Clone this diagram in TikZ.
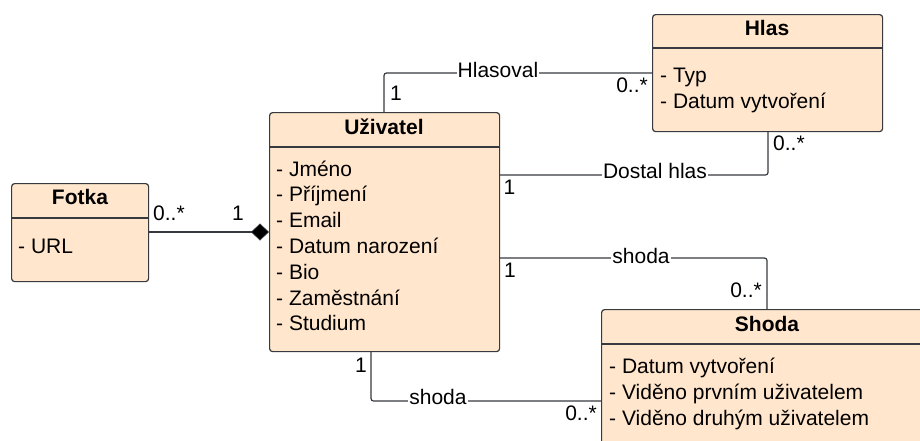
\documentclass[tikz,border=0pt]{standalone}
\usepackage{fontspec}
\setmainfont{Liberation Sans}
\usetikzlibrary{arrows.meta}
\definecolor{boxfill}{HTML}{FFE6CC}
\definecolor{linec}{HTML}{36393D}
\tikzset{
  umlbox/.style={draw=linec, fill=boxfill, line width=1.2pt, rounded corners=3pt, inner sep=0pt, anchor=north west},
  divider/.style={draw=linec, line width=1.2pt},
  conn/.style={draw=linec, line width=1.2pt, rounded corners=2.5pt},
  ttl/.style={anchor=base, inner sep=0pt, font=\fontsize{21}{25.8}\selectfont\bfseries},
  attr/.style={anchor=base west, inner sep=0pt, font=\fontsize{21}{25.8}\selectfont},
  mult/.style={inner sep=0pt, font=\fontsize{21}{25.8}\selectfont},
  lbl/.style={anchor=base, fill=white, inner xsep=1pt, inner ysep=2pt, font=\fontsize{21}{25.8}\selectfont},
}
\begin{document}
\begin{tikzpicture}[x=1pt,y=-1pt]
\useasboundingbox (0,0) rectangle (920,440);
\clip (0,0) rectangle (920,440);

% Boxes
\node[umlbox, minimum width=230pt, minimum height=239pt] (uz) at (269,112) {};
\node[umlbox, minimum width=137pt, minimum height=98pt] (fo) at (11,183) {};
\node[umlbox, minimum width=230pt, minimum height=117pt] (hl) at (652,14) {};
\node[umlbox, minimum width=331pt, minimum height=150pt] (sh) at (601,309) {};

% Dividers
\draw[divider] (uz.west |- 0,147) -- (uz.east |- 0,147);
\draw[divider] (fo.west |- 0,218) -- (fo.east |- 0,218);
\draw[divider] (hl.west |- 0,48) -- (hl.east |- 0,48);
\draw[divider] (sh.west |- 0,344) -- (sh.east |- 0,344);

% Titles
\node[ttl] (uz-t) at (384,134) {Uživatel};
\node[ttl] (fo-t) at (80,204) {Fotka};
\node[ttl] (hl-t) at (767,35) {Hlas};
\node[ttl] (sh-t) at (767,331) {Shoda};

% Attributes
\foreach \t [count=\i] in {Jméno, Příjmení, Email, Datum narození, Bio, Zaměstnání, Studium}
  \node[attr] (uz-a\i) at (276,{176+25.8*(\i-1)}) {- \t};
\node[attr] (fo-a1) at (18,253) {- URL};
\node[attr] (hl-a1) at (660,82) {- Typ};
\node[attr] (hl-a2) at (660,108) {- Datum vytvoření};
\node[attr] (sh-a1) at (609,373.5) {- Datum vytvoření};
\node[attr] (sh-a2) at (609,399.5) {- Viděno prvním uživatelem};
\node[attr] (sh-a3) at (609,425.5) {- Viděno druhým uživatelem};

% Connectors
\draw[draw=linec, line width=1.2pt, -{Diamond[length=18pt,width=17pt,line width=0.6pt,fill=black]}] (fo.east |- 0,232) -- (uz.west |- 0,232);
\draw[conn] (uz.north -| 384,0) |- (hl.west |- 0,73);
\draw[conn] (uz.east |- 0,175) -| (hl.south -| 768,0);
\draw[conn] (uz.east |- 0,258) -| (sh.north -| 767,0);
\draw[conn] (uz.south -| 371,0) |- (sh.west |- 0,401);

% Connector labels
\node[lbl] (l-hlasoval) at (498,77) {Hlasoval};
\node[lbl] (l-dostal) at (655,178.5) {Dostal hlas};
\node[lbl] (l-shoda1) at (641,263) {shoda};
\node[lbl] (l-shoda2) at (438,404.5) {shoda};

% Multiplicities
\node[mult, anchor=base west] (m1) at (153,220) {0..*};
\node[mult, anchor=base west] (m2) at (232,220) {1};
\node[mult, anchor=base west] (m3) at (390,100) {1};
\node[mult, anchor=base east] (m4) at (648,92) {0..*};
\node[mult, anchor=base west] (m5) at (503.5,194) {1};
\node[mult, anchor=base west] (m6) at (773,150) {0..*};
\node[mult, anchor=base west] (m7) at (504,277) {1};
\node[mult, anchor=base east] (m8) at (762,297) {0..*};
\node[mult, anchor=base west] (m9) at (355,372) {1};
\node[mult, anchor=base east] (m10) at (597,420) {0..*};
\end{tikzpicture}
\end{document}
